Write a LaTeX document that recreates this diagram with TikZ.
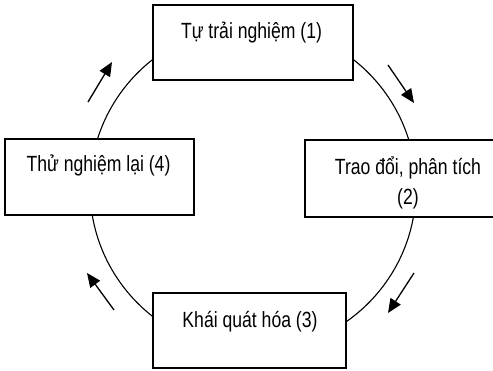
\documentclass[tikz,border=0pt]{standalone}
\usepackage{fontspec}
\setmainfont[FakeStretch=0.8]{Liberation Sans}
\usetikzlibrary{arrows.meta}
\begin{document}
\begin{tikzpicture}[x=1pt,y=1pt,
  cycleline/.style={line width=1.1pt},
  stagebox/.style={draw, line width=1.8pt, fill=white, inner sep=0pt},
  stagetext/.style={font=\fontsize{22}{30}\selectfont, inner sep=0pt, anchor=base, align=center},
  flowarrow/.style={line width=1.3pt, -{Triangle[length=14pt,width=12pt]}}]
  \useasboundingbox (0,0) rectangle (493,-371);
  \clip (0,0) rectangle (493,-371);

  % the learning cycle
  \node[circle, minimum size=326pt, inner sep=0pt] (ring) at (253,-188) {};
  \draw[cycleline] (ring.center) circle[radius=163pt];

  % stage boxes
  \node[stagebox, minimum width=200pt, minimum height=75pt] (s1) at (253,-42.5) {};
  \node[stagebox, minimum width=206pt, minimum height=77pt] (s2) at (408,-178.5) {};
  \node[stagebox, minimum width=193pt, minimum height=75pt] (s3) at (249.5,-330.5) {};
  \node[stagebox, minimum width=189pt, minimum height=76pt] (s4) at (99.5,-177) {};

  % stage labels (base of a two-line label is its last line)
  \node[stagetext] (t1) at (251.5,-39) {Tự trải nghiệm (1)};
  \node[stagetext] (t2) at (408,-205) {Trao đổi, phân tích\\(2)};
  \node[stagetext] (t3) at (250,-328) {Khái quát hóa (3)};
  \node[stagetext] (t4) at (98.5,-172) {Thử nghiệm lại (4)};

  % direction of the cycle
  \coordinate (a1s) at (88,-102);  \coordinate (a1e) at (112,-62);
  \coordinate (a2s) at (388,-65);  \coordinate (a2e) at (414,-103);
  \coordinate (a3s) at (414,-273); \coordinate (a3e) at (388,-313);
  \coordinate (a4s) at (114,-310); \coordinate (a4e) at (87,-273);
  \draw[flowarrow] (a1s) -- (a1e);
  \draw[flowarrow] (a2s) -- (a2e);
  \draw[flowarrow] (a3s) -- (a3e);
  \draw[flowarrow] (a4s) -- (a4e);
\end{tikzpicture}
\end{document}
